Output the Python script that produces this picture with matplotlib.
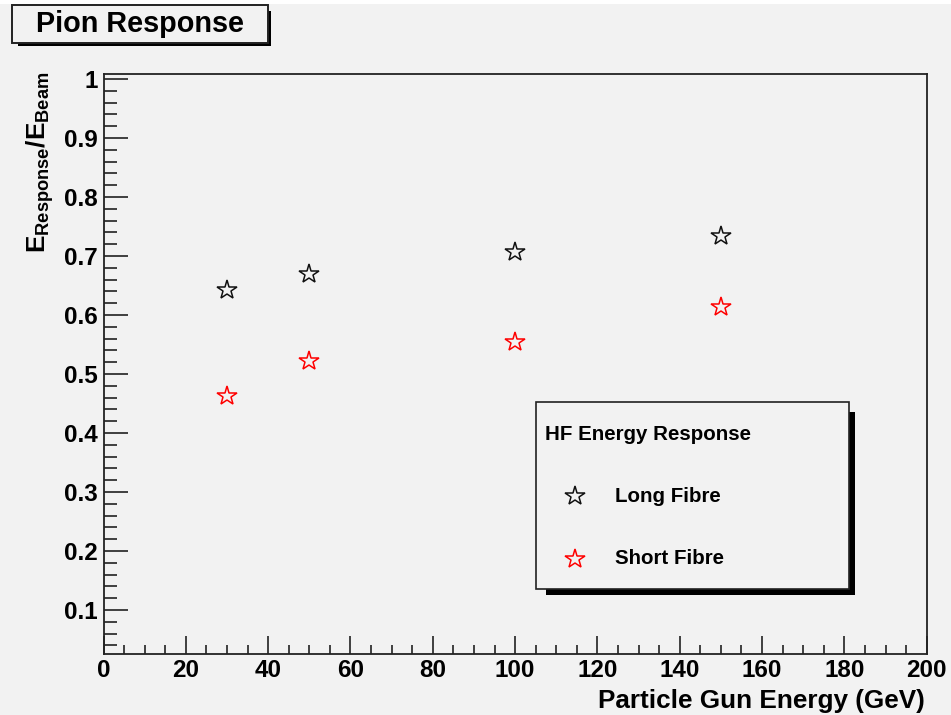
import matplotlib
matplotlib.use("Agg")
import matplotlib.pyplot as plt
from matplotlib.patches import Rectangle
from matplotlib.lines import Line2D
from matplotlib.ticker import MultipleLocator, FuncFormatter

# ---- data ----
energies = [30, 50, 100, 150]
long_fibre = [0.642, 0.669, 0.707, 0.734]
short_fibre = [0.463, 0.522, 0.554, 0.614]
series_labels = ["Long Fibre", "Short Fibre"]
legend_title = "HF Energy Response"
chart_title = "Pion Response"
x_label = "Particle Gun Energy (GeV)"
y_label = r"$\mathbf{E}_{\mathbf{Response}}\mathbf{/E}_{\mathbf{Beam}}$"

W, H = 951, 715
BG = "#f2f2f2"
plt.rcParams["font.family"] = ["Liberation Sans", "DejaVu Sans"]
plt.rcParams["mathtext.fontset"] = "custom"
plt.rcParams["mathtext.rm"] = "Liberation Sans"
plt.rcParams["mathtext.bf"] = "Liberation Sans:bold"
plt.rcParams["mathtext.it"] = "Liberation Sans:italic"

fig = plt.figure(figsize=(W / 100, H / 100), dpi=100, facecolor=BG)


def fx(x):
    return x / W


def fy(y):
    return 1 - y / H


ax_l, ax_r, ax_t, ax_b = 103.5, 926.7, 74, 654
ax = fig.add_axes([fx(ax_l), fy(ax_b), (ax_r - ax_l) / W, (ax_b - ax_t) / H])
ax.set_facecolor(BG)
ax.set_xlim(0, 200)
ax.set_ylim(0.0255, 1.0085)

ax.xaxis.set_major_locator(MultipleLocator(20))
ax.xaxis.set_minor_locator(MultipleLocator(5))
ax.yaxis.set_major_locator(MultipleLocator(0.1))
ax.yaxis.set_minor_locator(MultipleLocator(0.02))
ax.yaxis.set_major_formatter(FuncFormatter(lambda v, p: f"{v:g}" if v > 0.05 else ""))
ax.xaxis.set_major_formatter(FuncFormatter(lambda v, p: f"{v:g}"))

for s in ax.spines.values():
    s.set_color("#222222")
    s.set_linewidth(1.3)

ax.tick_params(axis="x", which="major", direction="in", length=13, width=1.2,
               color="#222222", labelsize=17.5, pad=3.5, top=False)
ax.tick_params(axis="x", which="minor", direction="in", length=6.7, width=1.2,
               color="#222222", top=False)
ax.tick_params(axis="y", which="major", direction="in", length=17, width=1.2,
               color="#222222", labelsize=17.5, pad=4, right=False)
ax.tick_params(axis="y", which="minor", direction="in", length=9.5, width=1.2,
               color="#222222", right=False)
for lab in ax.get_xticklabels() + ax.get_yticklabels():
    lab.set_fontweight("bold")

ms = 14.5
ax.plot(energies, long_fibre, linestyle="none", marker="*", markersize=ms,
        markerfacecolor="none", markeredgecolor="#111111", markeredgewidth=1.1,
        label=series_labels[0])
ax.plot(energies, short_fibre, linestyle="none", marker="*", markersize=ms,
        markerfacecolor="none", markeredgecolor="red", markeredgewidth=1.1,
        label=series_labels[1])

# axis titles
fig.text(fx(925), fy(708), x_label, ha="right", va="baseline",
         fontsize=18.8, fontweight="bold")
fig.text(fx(24), fy(72), y_label, rotation=90, ha="left", va="top",
         fontsize=18.8)

# top white strip
fig.add_artist(Rectangle((0, fy(4)), 1, 4 / H, transform=fig.transFigure,
                         facecolor="white", edgecolor="none", zorder=0))


def box(l, t, r, b, sh_in, sh_out, lw, z):
    fig.add_artist(Rectangle((fx(l + sh_in), fy(b + sh_out)),
                             (r + sh_out - l - sh_in) / W, (b + sh_out - t - sh_in) / H,
                             transform=fig.transFigure, facecolor="black",
                             edgecolor="none", zorder=z))
    fig.add_artist(Rectangle((fx(l), fy(b)), (r - l) / W, (b - t) / H,
                             transform=fig.transFigure, facecolor=BG,
                             edgecolor="#222222", linewidth=lw, zorder=z + 1))


# title box
box(12, 5, 268, 43, 6, 3, 1.4, 5)
fig.text(fx(140), fy(24), chart_title, ha="center", va="center",
         fontsize=20.8, fontweight="bold", zorder=10)

# legend box
box(536, 402, 849, 589, 10, 5.5, 1.2, 5)
fig.text(fx(545), fy(434), legend_title, ha="left", va="center",
         fontsize=14.8, fontweight="bold", zorder=10)
for i, (lab, col) in enumerate(zip(series_labels, ["#111111", "red"])):
    yy = [496, 559][i]
    fig.add_artist(Line2D([fx(575)], [fy(yy)], transform=fig.transFigure,
                          linestyle="none", marker="*", markersize=ms,
                          markerfacecolor="none", markeredgecolor=col,
                          markeredgewidth=1.1, zorder=10))
    fig.text(fx(615), fy(yy), lab, ha="left", va="center",
             fontsize=14.8, fontweight="bold", zorder=10)

fig.savefig("out.png", dpi=100, facecolor=BG)
